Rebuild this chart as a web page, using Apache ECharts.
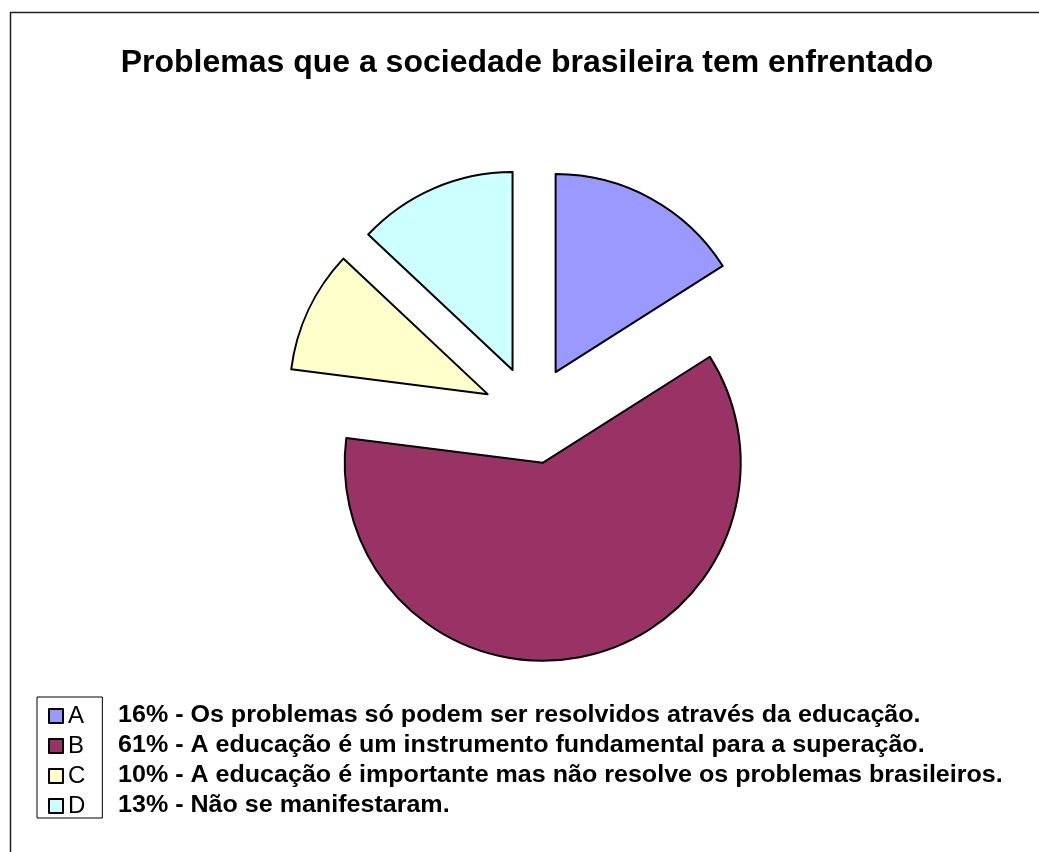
<!DOCTYPE html>
<html><head><meta charset="utf-8">
<script src="https://cdn.jsdelivr.net/npm/echarts@6/dist/echarts.min.js"></script>
<style>html,body{margin:0;padding:0;background:#fff}#c{width:1039px;height:852px}</style>
</head><body><div id="c"></div>
<script>
const titleText = 'Problemas que a sociedade brasileira tem enfrentado';
const categories = ['A', 'B', 'C', 'D'];
const values = [16, 61, 10, 13];
const descriptions = [
  '16% - Os problemas só podem ser resolvidos através da educação.',
  '61% - A educação é um instrumento fundamental para a superação.',
  '10% - A educação é importante mas não resolve os problemas brasileiros.',
  '13% - Não se manifestaram.'
];
const colors = ['#9999FF', '#993366', '#FFFFCC', '#CCFFFF'];

const FONT = '"Liberation Sans", Arial, sans-serif';
const chart = echarts.init(document.getElementById('c'), null, {renderer: 'canvas'});

const ROW0 = 716, ROWH = 30;
const graphics = [{
  type: 'rect', z: 0, silent: true,
  shape: {x: 10.5, y: 12.5, width: 1100, height: 1000},
  style: {fill: 'none', stroke: '#222', lineWidth: 1.5}
}];
descriptions.forEach((d, i) => {
  graphics.push({
    type: 'text', x: 118, y: ROW0 + i * ROWH, scaleX: 1.09, silent: true,
    style: {text: d, font: 'bold 23px ' + FONT, fill: '#000', textAlign: 'left', textVerticalAlign: 'middle'}
  });
});

chart.setOption({
  animation: false,
  color: colors,
  title: {
    text: titleText, left: 527, top: 47, textAlign: 'center', padding: 0,
    textStyle: {fontFamily: FONT, fontWeight: 'bold', fontSize: 32, color: '#000'}
  },
  legend: {
    data: categories, orient: 'vertical', left: 37, top: 697,
    padding: [7, 17, 0, 11], itemGap: 6, itemWidth: 14, itemHeight: 14, itemTextGap: 4,
    borderColor: '#000', borderWidth: 1, selectedMode: false,
    icon: 'rect',
    itemStyle: {borderColor: '#000', borderWidth: 2},
    textStyle: {fontFamily: FONT, fontSize: 24, lineHeight: 24, color: '#000'}
  },
  graphic: graphics,
  series: [{
    type: 'pie', center: [532, 415], radius: 198, startAngle: 90, clockwise: true,
    selectedMode: 'multiple', selectedOffset: 49, avoidLabelOverlap: false,
    label: {show: false}, labelLine: {show: false},
    emphasis: {disabled: true}, silent: true,
    itemStyle: {borderColor: '#000', borderWidth: 2},
    data: categories.map((c, i) => ({name: c, value: values[i], selected: true}))
  }]
});
</script></body></html>
